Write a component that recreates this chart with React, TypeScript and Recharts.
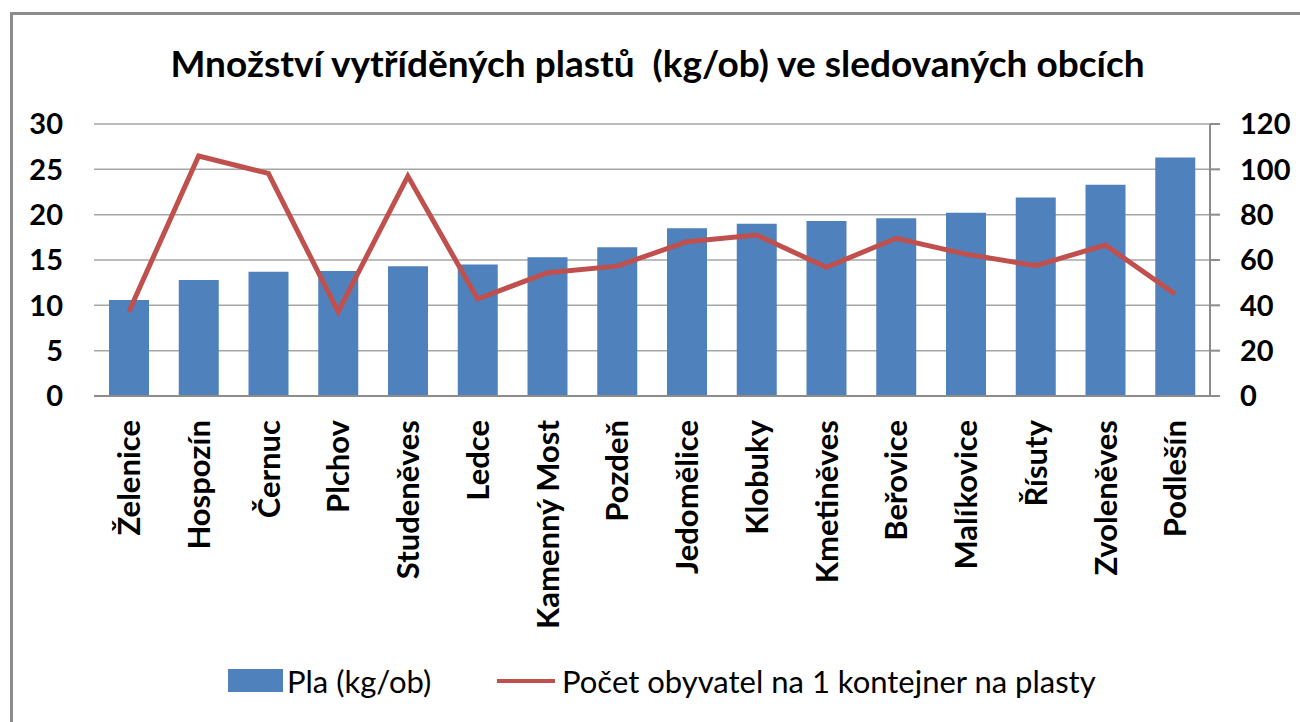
import { Bar, CartesianGrid, ComposedChart, Line, XAxis, YAxis } from "recharts";

const obce = [
  "Želenice",
  "Hospozín",
  "Černuc",
  "Plchov",
  "Studeněves",
  "Ledce",
  "Kamenný Most",
  "Pozdeň",
  "Jedomělice",
  "Klobuky",
  "Kmetiněves",
  "Beřovice",
  "Malíkovice",
  "Řísuty",
  "Zvoleněves",
  "Podlešín",
];

// kg na obyvatele (levá osa)
const plastyKgOb = [
  10.6, 12.8, 13.7, 13.8, 14.3, 14.5, 15.3, 16.4, 18.5, 19.0, 19.3, 19.6, 20.2,
  21.9, 23.3, 26.3,
];

// obyvatel na 1 kontejner (pravá osa)
const obyvatelNaKontejner = [
  37.2, 105.9, 98.2, 37.2, 97, 42.8, 54.4, 57.3, 68.1, 71, 56.8, 69.6, 62.6,
  57.5, 66.6, 45,
];

const leftTicks = [0, 5, 10, 15, 20, 25, 30];
const rightTicks = [0, 20, 40, 60, 80, 100, 120];

const data = obce.map((obec, i) => ({
  obec,
  pla: plastyKgOb[i],
  pocet: obyvatelNaKontejner[i],
}));

const FONT = "Lato, 'Open Sans', sans-serif";
const BLUE = "#4F81BD";
const RED = "#C0504D";
const GREY = "#8c8c8c";

function CategoryTick({ x, y, payload }: any) {
  return (
    <text
      x={x}
      y={y}
      transform={`rotate(-90 ${x} ${y})`}
      textAnchor="end"
      dy="0.36em"
      fill="#000"
      fontFamily={FONT}
      fontWeight={700}
      fontSize={31}
    >
      {payload.value}
    </text>
  );
}

export default function App() {
  const tickStyle = {
    fill: "#000",
    fontSize: 29,
    fontWeight: 700,
    fontFamily: FONT,
  };
  const legendText = {
    position: "absolute" as const,
    top: 663,
    fontSize: 31,
    lineHeight: "36px",
    color: "#000",
    whiteSpace: "nowrap" as const,
  };
  return (
    <div
      style={{
        position: "absolute",
        left: 0,
        top: 0,
        width: 1300,
        height: 722,
        background: "#fff",
        fontFamily: FONT,
      }}
    >
      <div
        style={{
          position: "absolute",
          left: 10,
          top: 12,
          width: 1290,
          height: 710,
          borderLeft: `3px solid ${GREY}`,
          borderTop: `3px solid ${GREY}`,
          boxSizing: "border-box",
        }}
      />
      <div
        style={{
          position: "absolute",
          left: 0,
          top: 44,
          width: 1315,
          textAlign: "center",
          fontSize: 37,
          lineHeight: "37px",
          fontWeight: 700,
          color: "#000",
          whiteSpace: "pre",
        }}
      >
        {"Množství vytříděných plastů  (kg/ob) ve sledovaných obcích"}
      </div>
      <ComposedChart
        width={1300}
        height={722}
        data={data}
        margin={{ top: 124, right: 0, left: 0, bottom: 126 }}
        barCategoryGap={0}
      >
        <CartesianGrid vertical={false} stroke="#a6a6a6" strokeWidth={1.5} />
        <XAxis
          dataKey="obec"
          height={200}
          interval={0}
          tickLine={false}
          tickSize={0}
          tickMargin={24}
          axisLine={{ stroke: GREY, strokeWidth: 2 }}
          tick={<CategoryTick />}
        />
        <YAxis
          width={94}
          domain={[0, 30]}
          ticks={leftTicks}
          axisLine={false}
          tickLine={false}
          tickSize={0}
          tickMargin={31}
          tick={tickStyle}
        />
        <YAxis
          yAxisId="right"
          orientation="right"
          width={90}
          domain={[0, 120]}
          ticks={rightTicks}
          axisLine={{ stroke: GREY, strokeWidth: 2 }}
          tickLine={{ stroke: GREY, strokeWidth: 2 }}
          tickSize={10}
          tickMargin={20}
          tick={{ ...tickStyle, textAnchor: "start" }}
        />
        <Bar dataKey="pla" fill={BLUE} barSize={40} isAnimationActive={false} />
        <Line
          yAxisId="right"
          dataKey="pocet"
          stroke={RED}
          strokeWidth={5}
          dot={false}
          activeDot={false}
          type="linear"
          isAnimationActive={false}
        />
      </ComposedChart>
      <span
        style={{
          position: "absolute",
          left: 228,
          top: 669,
          width: 55,
          height: 23,
          background: BLUE,
        }}
      />
      <span style={{ ...legendText, left: 287 }}>Pla (kg/ob)</span>
      <span
        style={{
          position: "absolute",
          left: 497,
          top: 679,
          width: 58,
          height: 4,
          background: RED,
        }}
      />
      <span style={{ ...legendText, left: 562 }}>
        Počet obyvatel na 1 kontejner na plasty
      </span>
    </div>
  );
}
